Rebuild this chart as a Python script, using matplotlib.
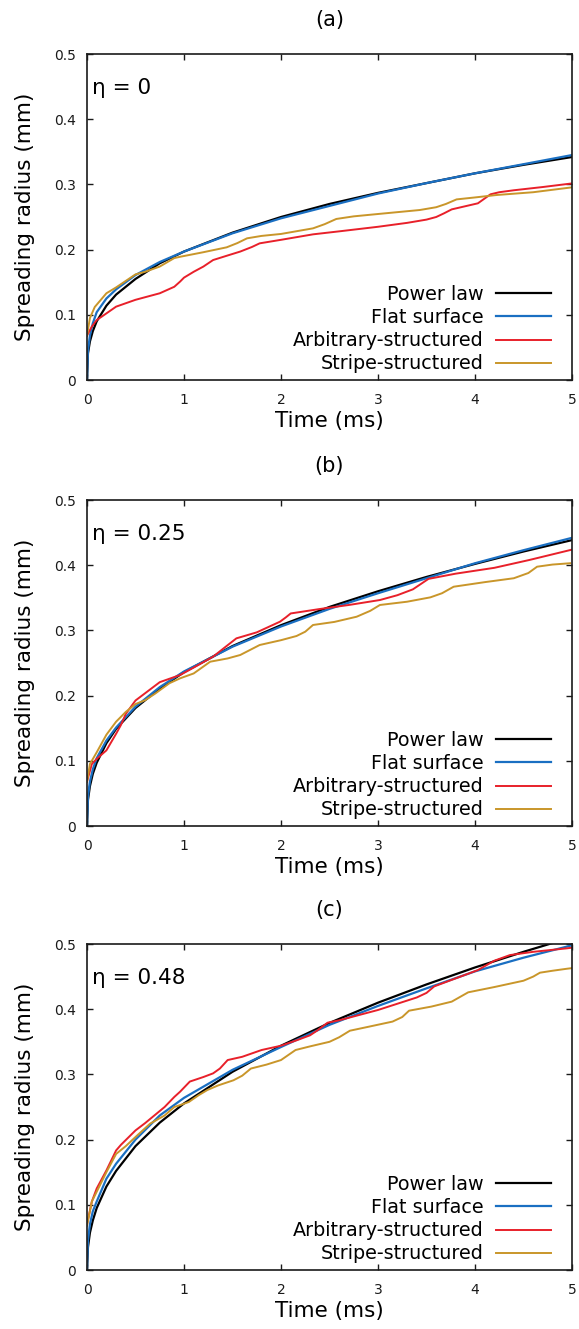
import matplotlib
matplotlib.use("Agg")
import matplotlib.pyplot as plt

plt.rcParams['font.family'] = ['DejaVu Sans']

# ---- data (time in ms, radius in mm) ----
T_FIT = [0, 0.01, 0.03, 0.06, 0.1, 0.2, 0.3, 0.5, 0.75, 1, 1.5, 2, 2.5, 3, 3.5, 4, 4.5, 5]

# (a) eta = 0
POW_A = [0, 0.041, 0.059, 0.075, 0.090, 0.114, 0.131, 0.155, 0.179, 0.197, 0.226, 0.250, 0.270, 0.287, 0.302, 0.317, 0.330, 0.342]
FLAT_A = [0, 0.045, 0.068, 0.087, 0.104, 0.125, 0.139, 0.161, 0.181, 0.197, 0.225, 0.248, 0.267, 0.286, 0.302, 0.317, 0.331, 0.345]
T_ARB_A = [0, 0.05, 0.1, 0.15, 0.3, 0.5, 0.75, 0.9, 0.96, 1.0, 1.1, 1.2, 1.3, 1.45, 1.58, 1.7, 1.78, 2.0, 2.33, 2.6,
           3.0, 3.3, 3.5, 3.6, 3.68, 3.76, 4.03, 4.16, 4.25, 4.4, 4.7, 5.0]
ARB_A = [0.068, 0.082, 0.092, 0.097, 0.1125, 0.123, 0.133, 0.143, 0.151, 0.157, 0.166, 0.174, 0.184, 0.191, 0.197, 0.204,
         0.2096, 0.215, 0.2234, 0.228, 0.235, 0.241, 0.246, 0.250, 0.2556, 0.2617, 0.271, 0.2848, 0.288, 0.291, 0.296, 0.3015]
T_STR_A = [0, 0.03, 0.08, 0.2, 0.3, 0.5, 0.6, 0.75, 0.9, 0.96, 1.2, 1.44, 1.55, 1.65, 1.8, 2.0, 2.33, 2.45, 2.57, 2.75,
           3.0, 3.43, 3.6, 3.7, 3.81, 4.0, 4.22, 4.6, 5.0]
STR_A = [0.068, 0.095, 0.112, 0.133, 0.142, 0.162, 0.166, 0.174, 0.187, 0.189, 0.196, 0.2035, 0.210, 0.2173, 0.221, 0.224,
         0.2326, 0.239, 0.247, 0.251, 0.2546, 0.2607, 0.265, 0.270, 0.277, 0.280, 0.2837, 0.288, 0.2955]

# (b) eta = 0.25
POW_B = [0, 0.040, 0.061, 0.080, 0.097, 0.127, 0.149, 0.181, 0.211, 0.236, 0.276, 0.308, 0.336, 0.360, 0.382, 0.402, 0.421, 0.4385]
FLAT_B = [0, 0.045, 0.068, 0.087, 0.104, 0.131, 0.151, 0.183, 0.213, 0.237, 0.275, 0.306, 0.333, 0.357, 0.380, 0.403, 0.423, 0.442]
T_ARB_B = [0, 0.05, 0.1, 0.2, 0.3, 0.35, 0.4, 0.5, 0.75, 0.96, 1.1, 1.3, 1.43, 1.54, 1.75, 1.99, 2.05, 2.1, 2.4, 2.7,
           3.02, 3.2, 3.36, 3.45, 3.52, 3.8, 4.2, 4.56, 5.0]
ARB_B = [0.068, 0.095, 0.103, 0.116, 0.1415, 0.155, 0.172, 0.1925, 0.2206, 0.2316, 0.243, 0.2597, 0.275, 0.2878, 0.297,
         0.3134, 0.320, 0.326, 0.3328, 0.339, 0.3466, 0.354, 0.363, 0.372, 0.379, 0.387, 0.396, 0.408, 0.4239]
T_STR_B = [0, 0.03, 0.1, 0.2, 0.3, 0.4, 0.5, 0.6, 0.7, 0.85, 0.96, 1.1, 1.27, 1.45, 1.58, 1.78, 2.0, 2.16, 2.25, 2.33,
           2.55, 2.78, 2.92, 3.02, 3.3, 3.54, 3.66, 3.78, 4.1, 4.4, 4.55, 4.64, 4.8, 4.98]
STR_B = [0.068, 0.095, 0.113, 0.14, 0.16, 0.175, 0.187, 0.193, 0.2028, 0.219, 0.2265, 0.234, 0.252, 0.257, 0.2623,
         0.2776, 0.285, 0.2914, 0.298, 0.3083, 0.313, 0.321, 0.330, 0.339, 0.344, 0.3507, 0.357, 0.367, 0.374, 0.38,
         0.388, 0.3977, 0.401, 0.403]

# (c) eta = 0.48
POW_C = [0, 0.035, 0.057, 0.076, 0.095, 0.128, 0.152, 0.190, 0.226, 0.2555, 0.304, 0.344, 0.379, 0.410, 0.438, 0.464, 0.488, 0.5105]
FLAT_C = [0, 0.045, 0.070, 0.090, 0.105, 0.140, 0.163, 0.200, 0.237, 0.264, 0.307, 0.342, 0.376, 0.405, 0.432, 0.458, 0.479, 0.498]
T_ARB_C = [0, 0.05, 0.1, 0.2, 0.3, 0.35, 0.5, 0.6, 0.8, 0.9, 0.96, 1.06, 1.2, 1.3, 1.37, 1.45, 1.6, 1.8, 2.0, 2.17,
           2.3, 2.38, 2.48, 2.6, 3.0, 3.4, 3.5, 3.58, 4.03, 4.1, 4.2, 4.36, 4.6, 4.95, 5.0]
ARB_C = [0.07, 0.105, 0.125, 0.1527, 0.1834, 0.192, 0.2141, 0.2254, 0.25, 0.2654, 0.2735, 0.289, 0.296, 0.3016, 0.309,
         0.322, 0.327, 0.3374, 0.344, 0.3528, 0.36, 0.368, 0.3793, 0.383, 0.3988, 0.418, 0.425, 0.435, 0.460, 0.466,
         0.4744, 0.483, 0.488, 0.4934, 0.4944]
T_STR_C = [0, 0.05, 0.1, 0.2, 0.3, 0.4, 0.5, 0.65, 0.8, 0.9, 0.96, 1.05, 1.15, 1.24, 1.35, 1.51, 1.6, 1.69, 1.85, 2.0,
           2.15, 2.3, 2.5, 2.6, 2.71, 2.9, 3.15, 3.25, 3.32, 3.55, 3.76, 3.93, 4.2, 4.5, 4.6, 4.67, 4.8, 4.95, 5.0]
STR_C = [0.068, 0.105, 0.12, 0.15, 0.178, 0.19, 0.204, 0.2244, 0.237, 0.25, 0.253, 0.2577, 0.268, 0.276, 0.283, 0.291,
         0.298, 0.309, 0.315, 0.322, 0.3374, 0.343, 0.350, 0.357, 0.367, 0.373, 0.381, 0.388, 0.3977, 0.404, 0.4116,
         0.4259, 0.434, 0.4437, 0.45, 0.456, 0.459, 0.4621, 0.463]

PANEL_TITLES = ['(a)', '(b)', '(c)']
ETA_LABELS = ['η = 0', 'η = 0.25', 'η = 0.48']
SERIES_NAMES = ['Power law', 'Flat surface', 'Arbitrary-structured', 'Stripe-structured']
X_TICKS = [0, 1, 2, 3, 4, 5]
Y_TICKS = [0, 0.1, 0.2, 0.3, 0.4, 0.5]
Y_TICK_LABELS = ['0', '0.1', '0.2', '0.3', '0.4', '0.5']

COLORS = ['#000000', '#1a6fc2', '#e8202a', '#c9962a']

panels = [
    (POW_A, FLAT_A, T_ARB_A, ARB_A, T_STR_A, STR_A),
    (POW_B, FLAT_B, T_ARB_B, ARB_B, T_STR_B, STR_B),
    (POW_C, FLAT_C, T_ARB_C, ARB_C, T_STR_C, STR_C),
]

W, H = 579, 1329
fig = plt.figure(figsize=(W / 100, H / 100), dpi=100)

ax_left, ax_w, ax_h = 87, 485, 326
ax_bottoms = [380, 826, 1270]  # pixel row of each x axis

for i, (pw, fl, ta, ar, ts, st) in enumerate(panels):
    ax = fig.add_axes([ax_left / W, (H - ax_bottoms[i]) / H, ax_w / W, ax_h / H])
    ax.plot(T_FIT, pw, color=COLORS[0], lw=1.6, label=SERIES_NAMES[0])
    ax.plot(T_FIT, fl, color=COLORS[1], lw=1.6, label=SERIES_NAMES[1])
    ax.plot(ta, ar, color=COLORS[2], lw=1.4, label=SERIES_NAMES[2])
    ax.plot(ts, st, color=COLORS[3], lw=1.4, label=SERIES_NAMES[3])

    ax.set_xlim(0, 5)
    ax.set_ylim(0, 0.5)
    ax.set_xticks(X_TICKS)
    ax.set_xticklabels([str(x) for x in X_TICKS])
    ax.set_yticks(Y_TICKS)
    ax.set_yticklabels(Y_TICK_LABELS)
    ax.tick_params(direction='in', length=4.5, width=1, top=True, right=True,
                   labelsize=10, colors='#1a1a1a')
    ax.tick_params(axis='x', pad=9)
    ax.tick_params(axis='y', pad=8)
    for sp in ax.spines.values():
        sp.set_linewidth(1.2)
        sp.set_color('#1a1a1a')

    ax.set_xlabel('Time (ms)', fontsize=15.5)
    ax.set_ylabel('Spreading radius (mm)', fontsize=15.5)
    ax.xaxis.set_label_coords(0.5, -0.095)
    ax.yaxis.set_label_coords(-0.108, 0.5)

    ax.text(0.5, 1.104, PANEL_TITLES[i], transform=ax.transAxes, ha='center', va='center', fontsize=15)
    ax.text(0.011, 0.896, ETA_LABELS[i], transform=ax.transAxes, ha='left', va='center', fontsize=15.5)

    ax.legend(loc='lower right', bbox_to_anchor=(0.957, 0.02), frameon=False, markerfirst=False,
              fontsize=13.8, handlelength=2.9, handletextpad=0.6, labelspacing=0.22,
              borderpad=0, borderaxespad=0)

fig.savefig('out.png', dpi=100)
